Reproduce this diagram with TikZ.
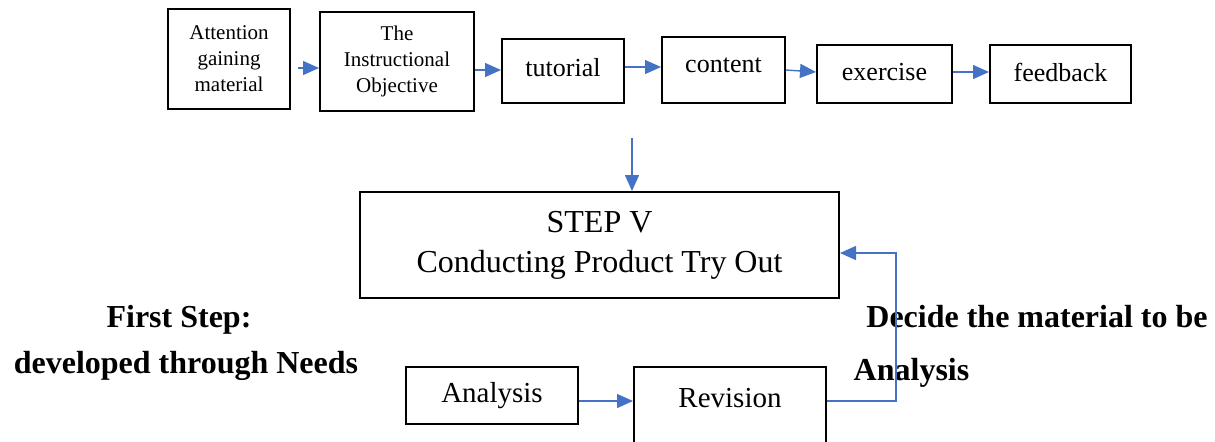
\documentclass[tikz,border=0pt]{standalone}
\usepackage{fontspec}
\setmainfont{Liberation Serif}
\usetikzlibrary{arrows.meta}
\definecolor{arrowblue}{RGB}{68,114,196}
\begin{document}
\begin{tikzpicture}
[x=0.5pt,y=-0.5pt,
 box/.style={draw,line width=1pt,inner sep=0pt,align=center},
 txtsmall/.style={font=\fontsize{10.5pt}{13pt}\selectfont},
 txtmid/.style={font=\fontsize{13pt}{15.6pt}\selectfont},
 txtbig/.style={font=\fontsize{14.5pt}{17.4pt}\selectfont},
 txthead/.style={font=\fontsize{16pt}{20pt}\selectfont},
 heading/.style={font=\fontsize{16pt}{20pt}\selectfont\bfseries,anchor=base},
 conn/.style={arrowblue,line width=0.7pt,-{Triangle[length=8pt,width=7pt]}}]
\useasboundingbox (0,0) rectangle (1215,441);
\clip (0,0) rectangle (1215,441);
\path (229,59) node (att) [box,txtsmall,minimum width=61pt,minimum height=50pt] {Attention\\gaining\\material}
(397,61.5) node (ins) [box,txtsmall,minimum width=77pt,minimum height=49.5pt] {The\\Instructional\\Objective}
(563,71) node (tut) [box,txtmid,minimum width=61pt,minimum height=32pt,text depth=4pt] {tutorial}
(723.5,70) node (cont) [box,txtmid,minimum width=61.5pt,minimum height=33pt,text depth=5pt] {content}
(884.5,74) node (ex) [box,txtmid,minimum width=67.5pt,minimum height=29pt,text depth=2pt] {exercise}
(1060.5,74) node (fb) [box,txtmid,minimum width=70.5pt,minimum height=29pt,text depth=2pt] {feedback}
(599.5,245) node (step) [box,txthead,minimum width=239.5pt,minimum height=53pt] {STEP V\\Conducting Product Try Out}
(492,395.5) node (ana) [box,txtbig,minimum width=86pt,minimum height=28.5pt] {Analysis}
(730,427) node (rev) [box,txtbig,minimum width=96pt,minimum height=60pt,text height=10pt,text depth=30pt] {Revision};
\path (179,327) node (first) [heading] {First Step:}
(186,373) node (dev) [heading] {developed through Needs}
(1037,327) node (decide) [heading] {Decide the material to be}
(911.5,380) node (needs) [heading] {Analysis};
\coordinate (top) at (632,138);
\coordinate (turn) at (896,253);
\draw [conn,shorten <=3.5pt] ([yshift=-4.5pt]att.east) -- ([yshift=-4.5pt]att.east -| ins.west);
\draw [conn] ([yshift=-4.25pt]ins.east) -- ([yshift=-4.25pt]ins.east -| tut.west);
\draw [conn] ([yshift=2pt]tut.east) -- ([yshift=2pt]tut.east -| cont.west);
\draw [conn] (cont.east) -- ([yshift=1pt]ex.west);
\draw [conn] ([yshift=1pt]ex.east) -- ([yshift=1pt]fb.west);
\draw [conn] (top) -- (top |- step.north);
\draw [conn] ([yshift=-2.75pt]ana.east) -- ([yshift=-2.75pt]ana.east -| rev.west);
\draw [conn] ([yshift=13pt]rev.east) -| (turn) -- (turn -| step.east);
\end{tikzpicture}
\end{document}
